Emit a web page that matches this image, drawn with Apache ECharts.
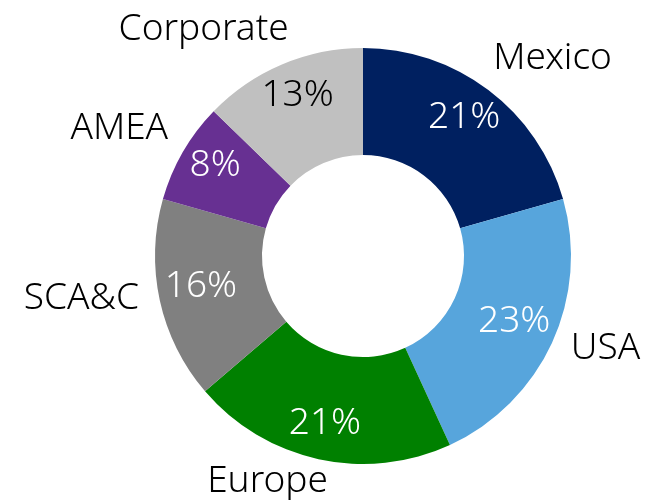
<!DOCTYPE html>
<html>
<head>
<meta charset="utf-8">
<script src="https://cdn.jsdelivr.net/npm/echarts@6/dist/echarts.min.js"></script>
<style>
  html, body { margin: 0; padding: 0; background: #fff; }
  #chart { width: 646px; height: 500px; }
</style>
</head>
<body>
<div id="chart"></div>
<script>
const regions = ["Mexico", "USA", "Europe", "SCA&C", "AMEA", "Corporate"];
const shares = [21, 23, 21, 16, 8, 13];

const sliceColors = ["#002060", "#57a5dc", "#008000", "#808080", "#673092", "#c0c0c0"];
const pctColors = ["#fff", "#fff", "#fff", "#fff", "#fff", "#000"];
// nudges so the labels sit where the original has them
const nameOffsets = [[22, 24], [-10, -24], [-36, -46], [-10, -17], [-3, 11], [-51, 29]];
const pctOffsets = [[-3, 0], [-6, -7], [-1, -2], [7, -7], [2, -4], [2, -1]];

const chart = echarts.init(document.getElementById("chart"));
const FONT = "Noto Sans";

const data = regions.map((name, i) => ({ name: name, value: shares[i] }));

chart.setOption({
  animation: false,
  series: [
    {
      type: "pie",
      center: [363, 256],
      radius: [101, 208],
      startAngle: 90,
      label: { show: false },
      labelLine: { show: false },
      itemStyle: {
        color: (p) => sliceColors[p.dataIndex],
      },
      emphasis: { disabled: true },
      data: data,
    },
    {
      // percentage labels
      type: "pie",
      silent: true,
      center: [363, 256],
      radius: [134, 206],
      startAngle: 90,
      itemStyle: { color: "transparent" },
      label: {
        show: true,
        position: "inside",
        formatter: "{c}%",
        fontFamily: FONT,
        fontWeight: 300,
        fontSize: 37,
        color: "#fff",
      },
      labelLine: { show: false },
      labelLayout: (p) => ({ dx: pctOffsets[p.dataIndex][0], dy: pctOffsets[p.dataIndex][1] }),
      data: data.map((d, i) => ({ ...d, label: { color: pctColors[i] } })),
    },
    {
      // region names around the ring
      type: "pie",
      silent: true,
      center: [363, 256],
      radius: [250, 300],
      startAngle: 90,
      itemStyle: { color: "transparent" },
      label: {
        show: true,
        position: "inside",
        formatter: "{b}",
        fontFamily: FONT,
        fontWeight: 300,
        fontSize: 37,
        color: "#000",
      },
      labelLine: { show: false },
      labelLayout: (p) => ({ dx: nameOffsets[p.dataIndex][0], dy: nameOffsets[p.dataIndex][1] }),
      data: data,
    },
  ],
});

window.addEventListener("resize", () => chart.resize());
</script>
</body>
</html>
